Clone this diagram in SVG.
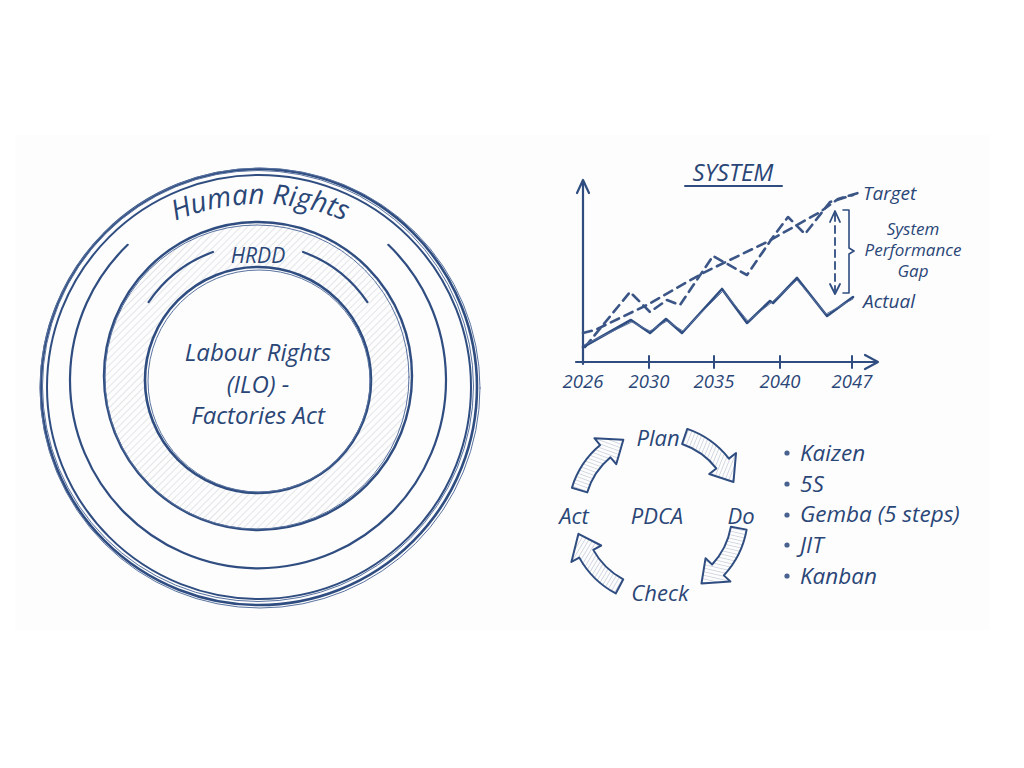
<svg xmlns="http://www.w3.org/2000/svg" width="1024" height="768" viewBox="0 0 1024 768">
<defs>
<style>
.t{font-family:"Open Sans","Noto Sans","Liberation Sans",sans-serif;font-style:italic;font-weight:500;fill:#2a4677}
.ln{fill:none;stroke:#2f4d80;stroke-linecap:round;stroke-linejoin:round}
.thin{fill:none;stroke:#5a73a0;stroke-width:1;stroke-linecap:round;stroke-linejoin:round}
.dash{fill:none;stroke:#3b5686;stroke-width:2.6;stroke-dasharray:9 6;stroke-linecap:round;stroke-linejoin:round}
</style>
<pattern id="hatch" patternUnits="userSpaceOnUse" width="5" height="5" patternTransform="rotate(45)">
<line x1="0" y1="0" x2="0" y2="5" stroke="#c4c8cf" stroke-width="0.9"/>
</pattern>
<pattern id="hatch2" patternUnits="userSpaceOnUse" width="3.5" height="3.5" patternTransform="rotate(45)">
<line x1="0" y1="0" x2="0" y2="3.5" stroke="#9aa6bc" stroke-width="0.8"/>
</pattern>
<path id="cyc" d="M60.22,-66.88 A90,90 0 0 1 86.93,-23.29 L95.63,-25.62 L82,0 L62.78,-16.82 L71.48,-19.15 A74,74 0 0 0 49.51,-54.99 Z" fill="url(#hatch2)" stroke="#2f4d80" stroke-width="2" stroke-linejoin="round"/>
<path id="hrArc" d="M92.2,282.2 A219,219 0 0 1 427.8,282.2"/>
</defs>
<rect width="1024" height="768" fill="#ffffff"/>
<rect x="15" y="135" width="975" height="495" fill="#fdfdfd"/>

<g id="human-rights">
<circle cx="259" cy="387" r="218" class="ln" stroke-width="2.6"/>
<circle cx="258" cy="386" r="215.5" class="thin"/>
<circle cx="259" cy="387" r="212" class="ln" stroke-width="2"/>
<circle cx="260" cy="388" r="220" class="thin"/>
<path d="M388.3,244.8 A188,188 0 1 1 127.7,244.8" class="ln" stroke-width="2.2"/>
<text class="t" font-size="28" text-anchor="middle"><textPath href="#hrArc" startOffset="50%">Human Rights</textPath></text>
</g>

<g id="hrdd">
<path d="M258,222 A154,154 0 1 1 257.9,222 Z M258,267 A113,113 0 1 0 258.1,267 Z" fill="url(#hatch)" fill-rule="evenodd"/>
<circle cx="258" cy="376" r="154" class="ln" stroke-width="2.4"/>
<circle cx="257" cy="377" r="152" class="thin"/>
<path d="M148.6,302.2 A132,132 0 0 1 212.9,252.0" class="ln" stroke-width="2.2"/>
<path d="M303.1,252.0 A132,132 0 0 1 367.4,302.2" class="ln" stroke-width="2.2"/>
<text class="t" x="258" y="263" font-size="21" text-anchor="middle">HRDD</text>
</g>

<g id="labour-rights">
<circle cx="258" cy="380" r="113" fill="#fdfdfd" class="ln" stroke-width="2.6"/>
<circle cx="259" cy="381" r="111" class="thin"/>
<text class="t" font-size="24" text-anchor="middle"><tspan x="258" y="361">Labour Rights</tspan><tspan x="258" y="393">(ILO) -</tspan><tspan x="258" y="424">Factories Act</tspan></text>
</g>

<g id="system-chart">
<text class="t" x="733" y="181" font-size="24" text-anchor="middle">SYSTEM</text>
<path d="M685,186 L782,186" class="ln" stroke-width="2"/>
<g id="axes">
<path d="M583,364 L583,180 M577,193 L583,180 L589,193" class="ln" stroke-width="2.2"/>
<path d="M576,362 L878,362 M865,355 L878,362 L865,369" class="ln" stroke-width="2.2"/>
<path d="M649,356 L649,368 M714,356 L714,368 M780,356 L780,368 M852,356 L852,368" class="ln" stroke-width="2"/>
<text class="t" font-size="18.5" text-anchor="middle"><tspan x="583" y="388">2026</tspan><tspan x="649" y="388">2030</tspan><tspan x="714" y="388">2035</tspan><tspan x="780" y="388">2040</tspan><tspan x="852" y="388">2047</tspan></text>
</g>
<g id="series">
<path d="M583,333 L595,330 L647,305 L703,273 L767,242 L820,212 L838,199 L858,193" class="dash"/>
<path d="M585,347 L630,292 L650,312 L667,300 L680,305 L713,256 L747,275 L773,237 L788,217 L805,234 L830,202 L853,195" class="dash"/>
<path d="M583,347 L631,320 L650,333 L666,319 L682,333 L722,289 L747,323 L770,301 L773,303 L797,278 L827,316 L853,297" class="ln" stroke-width="2.6"/>
<path d="M584,345 L632,322 L650,331 L667,321 L683,331 L723,291 L748,321 L771,303 L797,280 L826,314 L853,299" class="thin"/>
</g>
<g id="gap">
<path d="M835,214 L835,291" class="ln" stroke-width="1.8" stroke-dasharray="7 5"/>
<path d="M830,222 L835,211 L840,222 M830,284 L835,294 L840,284" class="ln" stroke-width="1.8"/>
<path d="M843,210 L849,210 L849,248 L854,251 L849,254 L849,293 L843,293" class="ln" stroke-width="1.6"/>
</g>
<text class="t" x="863" y="200" font-size="19">Target</text>
<text class="t" font-size="17" text-anchor="middle"><tspan x="913" y="235">System</tspan><tspan x="913" y="256">Performance</tspan><tspan x="913" y="277">Gap</tspan></text>
<text class="t" x="863" y="308" font-size="19">Actual</text>
</g>

<g id="pdca">
<g id="pdca-arrows">
<use href="#cyc" transform="translate(658,514) rotate(-23)"/>
<use href="#cyc" transform="translate(658,514) rotate(58)"/>
<use href="#cyc" transform="translate(658,514) rotate(166)"/>
<use href="#cyc" transform="translate(658,514) rotate(245)"/>
</g>
<g id="plan"><text class="t" x="658" y="446" font-size="22" text-anchor="middle">Plan</text></g>
<g id="do"><text class="t" x="741" y="524" font-size="22" text-anchor="middle">Do</text></g>
<g id="check"><text class="t" x="660" y="601" font-size="22" text-anchor="middle">Check</text></g>
<g id="act"><text class="t" x="574" y="524" font-size="22" text-anchor="middle">Act</text></g>
<g id="pdca-center"><text class="t" x="657" y="524" font-size="22" text-anchor="middle">PDCA</text></g>
</g>

<g id="tools">
<g fill="#4a6290"><circle cx="787" cy="453" r="2.6"/><circle cx="787" cy="484" r="2.6"/><circle cx="787" cy="515" r="2.6"/><circle cx="787" cy="545" r="2.6"/><circle cx="787" cy="576" r="2.6"/></g>
<text class="t" font-size="22.5"><tspan x="800" y="461">Kaizen</tspan><tspan x="800" y="492">5S</tspan><tspan x="800" y="522">Gemba (5 steps)</tspan><tspan x="800" y="553">JIT</tspan><tspan x="800" y="584">Kanban</tspan></text>
</g>
</svg>
